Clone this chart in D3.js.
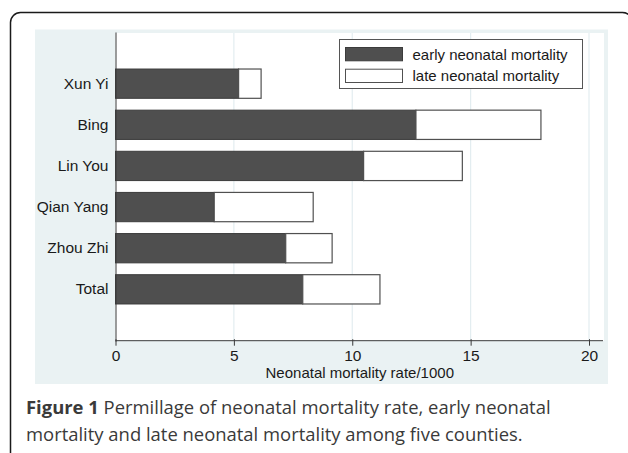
<!DOCTYPE html>
<html>
<head>
<meta charset="utf-8">
<script src="https://cdn.jsdelivr.net/npm/d3@7/dist/d3.min.js"></script>
<style>
  html, body { margin: 0; padding: 0; background: #ffffff; }
  svg { display: block; }
</style>
</head>
<body>
<svg id="chart" width="628" height="453"></svg>
<script>
// ---- data ----
const categories = ["Xun Yi", "Bing", "Lin You", "Qian Yang", "Zhou Zhi", "Total"];
const earlyValues = [5.20, 12.69, 10.48, 4.17, 7.19, 7.91];
const lateValues  = [0.95, 5.28, 4.17, 4.18, 1.96, 3.26];
const xTicks = [0, 5, 10, 15, 20];
const seriesNames = ["early neonatal mortality", "late neonatal mortality"];
const xTitle = "Neonatal mortality rate/1000";
const captionBold = "Figure 1";
const captionLine1 = " Permillage of neonatal mortality rate, early neonatal";
const captionLine2 = "mortality and late neonatal mortality among five counties.";

// ---- styles ----
const darkFill = "#4f4f4f";
const outline = "#505050";
const bgBlue = "#eaf2f3";
const gridCol = "#e3edf0";
const axisFont = "Arial, 'Liberation Sans', sans-serif";
const capFont = "'Open Sans', 'Noto Sans', sans-serif";

const svg = d3.select("#chart");

// outer frame (right and bottom edges lie beyond the canvas)
svg.append("rect")
  .attr("x", 10.5).attr("y", 12.5)
  .attr("width", 622).attr("height", 470)
  .attr("rx", 10).attr("ry", 10)
  .attr("fill", "#fff").attr("stroke", "#1a1a1a").attr("stroke-width", 1.5);

// graph region (light blue)
svg.append("rect")
  .attr("x", 35).attr("y", 29.5)
  .attr("width", 573).attr("height", 354.5)
  .attr("fill", bgBlue);

const plot = { left: 115.5, right: 604, top: 33, bottom: 340.7 };

// plot region white
svg.append("rect")
  .attr("x", plot.left).attr("y", plot.top)
  .attr("width", plot.right - plot.left).attr("height", plot.bottom - plot.top)
  .attr("fill", "#ffffff");

const x = d3.scaleLinear().domain([0, 20]).range([115.5, 589]);
const y = d3.scaleBand().domain(categories).range([32, 341])
  .paddingInner(0.288).paddingOuter(0.9);

// gridlines
svg.append("g").selectAll("line")
  .data(xTicks.filter(d => d > 0))
  .join("line")
  .attr("x1", d => x(d)).attr("x2", d => x(d))
  .attr("y1", plot.top).attr("y2", plot.bottom)
  .attr("stroke", gridCol).attr("stroke-width", 1.2);

// bars
const rows = categories.map((c, i) => ({ cat: c, early: earlyValues[i], late: lateValues[i] }));
const barG = svg.append("g");
barG.selectAll("rect.early")
  .data(rows).join("rect").attr("class", "early")
  .attr("x", x(0)).attr("y", d => y(d.cat))
  .attr("width", d => x(d.early) - x(0)).attr("height", y.bandwidth())
  .attr("fill", darkFill).attr("stroke", "#3c3c3c").attr("stroke-width", 1);
barG.selectAll("rect.late")
  .data(rows).join("rect").attr("class", "late")
  .attr("x", d => x(d.early)).attr("y", d => y(d.cat))
  .attr("width", d => x(d.early + d.late) - x(d.early)).attr("height", y.bandwidth())
  .attr("fill", "#ffffff").attr("stroke", outline).attr("stroke-width", 1.2);

// x axis
const xAxis = svg.append("g")
  .attr("transform", `translate(0,${plot.bottom})`)
  .call(d3.axisBottom(x).tickValues(xTicks).tickSize(5).tickPadding(4).tickSizeOuter(0));
xAxis.select(".domain").remove();
xAxis.append("line")
  .attr("x1", plot.left).attr("x2", 603).attr("y1", 0).attr("y2", 0)
  .attr("stroke", "#3a3a3a").attr("stroke-width", 1);
xAxis.selectAll(".tick line").attr("stroke", "#3a3a3a").attr("y1", -1.5);
xAxis.selectAll(".tick text")
  .attr("font-family", axisFont).attr("font-size", 15.5).attr("fill", "#1a1a1a");

// y axis
const yAxis = svg.append("g")
  .attr("transform", `translate(${plot.left},0)`)
  .call(d3.axisLeft(y).tickSize(0).tickPadding(7).tickSizeOuter(0));
yAxis.select(".domain").attr("stroke", "#3a3a3a").attr("stroke-width", 1);
yAxis.selectAll(".tick text")
  .attr("font-family", axisFont).attr("font-size", 15.5).attr("fill", "#1a1a1a");

// x title
svg.append("text")
  .attr("x", (plot.left + plot.right) / 2).attr("y", 378)
  .attr("text-anchor", "middle")
  .attr("font-family", axisFont).attr("font-size", 15).attr("fill", "#1a1a1a")
  .text(xTitle);

// legend
const lg = svg.append("g");
lg.append("rect")
  .attr("x", 339.5).attr("y", 39.5).attr("width", 243).attr("height", 49)
  .attr("fill", "#fff").attr("stroke", "#555").attr("stroke-width", 1);
const legFills = [darkFill, "#ffffff"];
seriesNames.forEach((name, i) => {
  const yy = 47.5 + i * 21.7;
  lg.append("rect")
    .attr("x", 345.5).attr("y", yy).attr("width", 57).attr("height", 13.3)
    .attr("fill", legFills[i]).attr("stroke", i === 0 ? "#3c3c3c" : outline).attr("stroke-width", 1);
  lg.append("text")
    .attr("x", 412.5).attr("y", yy + 12.2)
    .attr("font-family", axisFont).attr("font-size", 15).attr("fill", "#1a1a1a")
    .text(name);
});

// caption
const cap1 = svg.append("text")
  .attr("x", 26).attr("y", 414)
  .attr("font-family", capFont).attr("font-size", 17).attr("fill", "#3a3a3a");
cap1.append("tspan").attr("font-weight", "bold").text(captionBold);
cap1.append("tspan").text(captionLine1);
const cap2 = svg.append("text")
  .attr("x", 26).attr("y", 440.5)
  .attr("font-family", capFont).attr("font-size", 17).attr("fill", "#3a3a3a")
  .text(captionLine2);
// fit caption widths to the measured line widths
const w1 = cap1.node().getComputedTextLength();
const fs = 17 * 525 / w1;
cap1.attr("font-size", fs);
cap2.attr("font-size", fs);
</script>
</body>
</html>
